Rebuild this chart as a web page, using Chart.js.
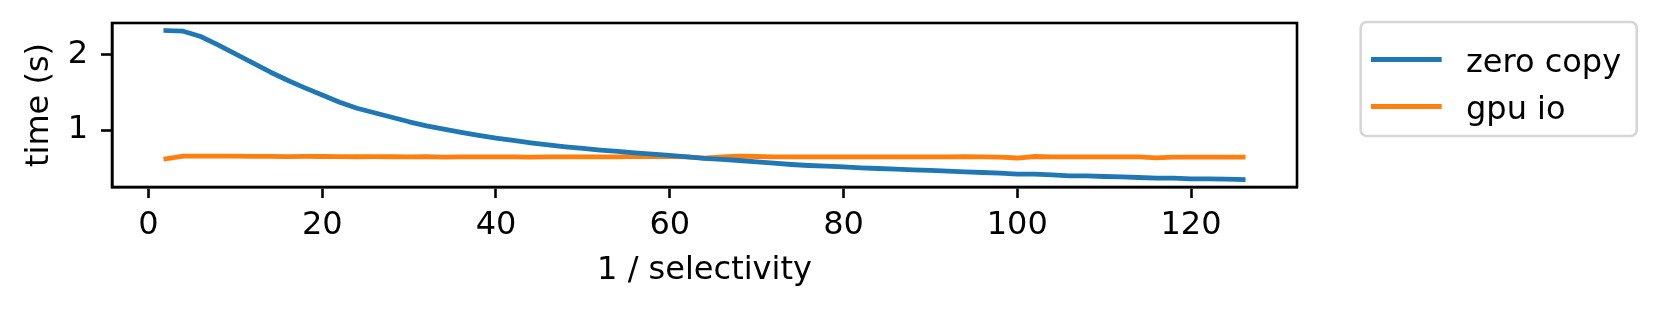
<!DOCTYPE html>
<html>
<head>
<meta charset="utf-8">
<script src="https://cdn.jsdelivr.net/npm/chart.js@4/dist/chart.umd.min.js"></script>
<style>
html, body { margin: 0; padding: 0; background: #ffffff; }
#wrap { width: 1660px; height: 310px; position: relative; }
</style>
</head>
<body>
<div id="wrap"><canvas id="c" width="1660" height="310"></canvas></div>
<script>
// ---- data ----
const xValues = [2,4,6,8,10,12,14,16,18,20,22,24,26,28,30,32,34,36,38,40,42,44,46,48,50,52,54,56,58,60,62,64,66,68,70,72,74,76,78,80,82,84,86,88,90,92,94,96,98,100,102,104,106,108,110,112,114,116,118,120,122,124,126];
const zeroCopy = [2.319,2.31,2.24,2.13,2.01,1.89,1.77,1.66,1.56,1.465,1.37,1.29,1.23,1.17,1.11,1.057,1.013,0.969,0.929,0.894,0.863,0.832,0.805,0.779,0.757,0.735,0.717,0.699,0.681,0.664,0.645,0.624,0.611,0.597,0.58,0.562,0.544,0.531,0.522,0.513,0.5,0.491,0.482,0.473,0.465,0.456,0.447,0.438,0.429,0.416,0.416,0.407,0.394,0.394,0.385,0.38,0.372,0.363,0.363,0.354,0.354,0.35,0.345];
const gpuIo = [0.62,0.655,0.655,0.656,0.655,0.653,0.652,0.649,0.652,0.65,0.648,0.647,0.648,0.647,0.646,0.648,0.643,0.645,0.646,0.645,0.646,0.641,0.644,0.645,0.645,0.645,0.646,0.652,0.648,0.648,0.645,0.628,0.645,0.655,0.65,0.646,0.645,0.645,0.645,0.645,0.645,0.645,0.645,0.645,0.645,0.645,0.647,0.646,0.642,0.63,0.65,0.645,0.645,0.645,0.645,0.645,0.644,0.632,0.642,0.643,0.643,0.643,0.643];
const seriesLabels = ['zero copy', 'gpu io'];
const xTicks = [0, 20, 40, 60, 80, 100, 120];
const yTicks = [1, 2];
const xTitle = '1 / selectivity';
const yTitle = 'time (s)';

// ---- styling ----
const FONT = 'DejaVu Sans';
const FS = 32;
const colors = ['#1f77b4', '#ff7f0e'];
const W = 1660, H = 310;
const AREA = { left: 112, right: 1297, top: 23, bottom: 187 };

const framePlugin = {
  id: 'frame',
  afterDatasetsDraw(chart) {
    const { ctx, chartArea: a } = chart;
    ctx.save();
    ctx.strokeStyle = '#000';
    ctx.lineWidth = 2.6;
    ctx.strokeRect(a.left, a.top, a.right - a.left, a.bottom - a.top);
    ctx.restore();
  }
};

const legendPlugin = {
  id: 'mplLegend',
  afterDraw(chart) {
    const { ctx } = chart;
    const bx = 1360.7, by = 22, bw = 276, bh = 114, r = 6;
    ctx.save();
    ctx.beginPath();
    ctx.moveTo(bx + r, by);
    ctx.lineTo(bx + bw - r, by);
    ctx.arcTo(bx + bw, by, bx + bw, by + r, r);
    ctx.lineTo(bx + bw, by + bh - r);
    ctx.arcTo(bx + bw, by + bh, bx + bw - r, by + bh, r);
    ctx.lineTo(bx + r, by + bh);
    ctx.arcTo(bx, by + bh, bx, by + bh - r, r);
    ctx.lineTo(bx, by + r);
    ctx.arcTo(bx, by, bx + r, by, r);
    ctx.closePath();
    ctx.fillStyle = 'rgba(255,255,255,0.8)';
    ctx.fill();
    ctx.strokeStyle = '#d6d6d6';
    ctx.lineWidth = 2.6;
    ctx.stroke();
    const rows = [59.5, 106.5];
    chart.data.datasets.forEach((ds, i) => {
      const y = rows[i];
      ctx.beginPath();
      ctx.moveTo(1371, y);
      ctx.lineTo(1441.7, y);
      ctx.strokeStyle = ds.borderColor;
      ctx.lineWidth = 4.8;
      ctx.lineCap = 'butt';
      ctx.stroke();
      ctx.fillStyle = '#000';
      ctx.font = FS + 'px "' + FONT + '"';
      ctx.textAlign = 'left';
      ctx.textBaseline = 'alphabetic';
      ctx.fillText(ds.label, 1466, y + 12);
    });
    ctx.restore();
  }
};

const ctx = document.getElementById('c').getContext('2d');
new Chart(ctx, {
  type: 'line',
  data: {
    datasets: [
      { label: seriesLabels[0], data: xValues.map((x, i) => ({ x: x, y: zeroCopy[i] })),
        borderColor: colors[0], backgroundColor: colors[0], borderWidth: 4.8, pointRadius: 0,
        tension: 0, fill: false, borderCapStyle: 'square', borderJoinStyle: 'round' },
      { label: seriesLabels[1], data: xValues.map((x, i) => ({ x: x, y: gpuIo[i] })),
        borderColor: colors[1], backgroundColor: colors[1], borderWidth: 4.8, pointRadius: 0,
        tension: 0, fill: false, borderCapStyle: 'square', borderJoinStyle: 'round' }
    ]
  },
  options: {
    responsive: false,
    animation: false,
    devicePixelRatio: 1,
    events: [],
    layout: { padding: { left: 0, right: W - AREA.right, top: AREA.top, bottom: 0 } },
    plugins: { legend: { display: false }, tooltip: { enabled: false }, title: { display: false } },
    scales: {
      x: {
        type: 'linear',
        min: -4.2,
        max: 132.2,
        afterBuildTicks: (s) => { s.ticks = xTicks.map(v => ({ value: v })); },
        afterFit: (s) => { s.height = H - AREA.bottom; s.paddingLeft = 0; s.paddingRight = 0; },
        grid: { display: true, drawOnChartArea: false, drawTicks: true, tickLength: 11, tickWidth: 2.6, tickColor: '#000', color: '#000' },
        border: { display: true, color: '#000', width: 2.6 },
        ticks: { color: '#000', font: { family: FONT, size: FS }, padding: 8, maxRotation: 0, autoSkip: false },
        title: { display: true, text: xTitle, color: '#000', font: { family: FONT, size: FS }, padding: { top: 0, bottom: 20 } }
      },
      y: {
        type: 'linear',
        min: 0.246,
        max: 2.419,
        afterBuildTicks: (s) => { s.ticks = yTicks.map(v => ({ value: v })); },
        afterFit: (s) => { s.width = AREA.left; s.paddingTop = 0; s.paddingBottom = 0; },
        grid: { display: true, drawOnChartArea: false, drawTicks: true, tickLength: 11, tickWidth: 2.6, tickColor: '#000', color: '#000' },
        border: { display: true, color: '#000', width: 2.6 },
        ticks: { color: '#000', font: { family: FONT, size: FS }, padding: 13, autoSkip: false },
        title: { display: true, text: yTitle, color: '#000', font: { family: FONT, size: FS }, padding: { top: 20, bottom: 0 } }
      }
    }
  },
  plugins: [framePlugin, legendPlugin]
});
</script>
</body>
</html>
